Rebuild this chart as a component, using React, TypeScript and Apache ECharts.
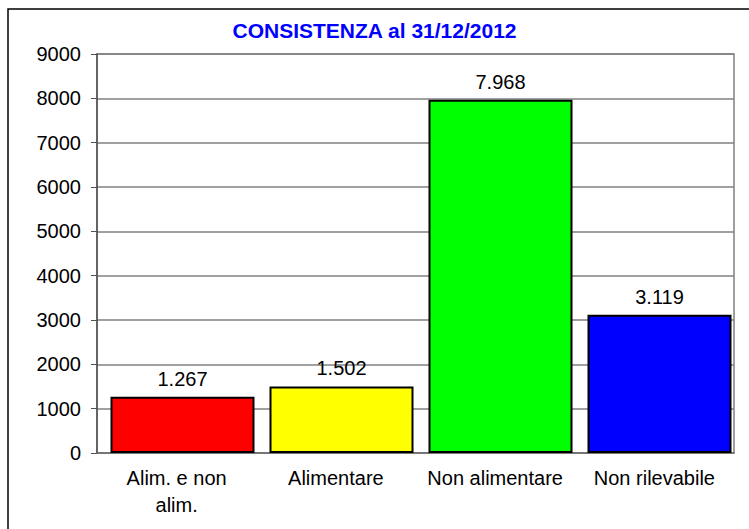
import React, { useEffect, useRef } from "react";
import * as echarts from "echarts";

const categories = ["Alim. e non\nalim.", "Alimentare", "Non alimentare", "Non rilevabile"];
const values = [1267, 1502, 7968, 3119];
const barColors = ["#FF0000", "#FFFF00", "#00FF00", "#0000FF"];
const titleText = "CONSISTENZA al 31/12/2012";

const fmt = (v: number) => String(v).replace(/\B(?=(\d{3})+(?!\d))/g, ".");

export default function App() {
  const ref = useRef<HTMLDivElement>(null);
  useEffect(() => {
    if (!ref.current) return;
    const chart = echarts.init(ref.current, null, { renderer: "svg" });
    const font = "'Liberation Sans', Arial, sans-serif";
    chart.setOption({
      animation: false,
      backgroundColor: "#ffffff",
      title: {
        text: titleText,
        left: "center",
        top: 15,
        textStyle: { color: "#0000FF", fontWeight: "bold", fontSize: 21, fontFamily: font },
      },
      graphic: [
        {
          type: "rect",
          shape: { x: 8, y: 9, width: 800, height: 600 },
          style: { fill: "none", stroke: "#000000", lineWidth: 1.5 },
          silent: true,
        },
      ],
      grid: [
        { left: 97, right: 15, top: 54, bottom: 76, show: true, borderColor: "#808080", borderWidth: 1.5, backgroundColor: "transparent" },
        { left: 103, right: 10, top: 54, bottom: 76 },
      ],
      xAxis: [
        {
          type: "category",
          gridIndex: 0,
          data: categories,
          axisLine: { show: true, lineStyle: { color: "#707070", width: 1.5 } },
          axisTick: { show: false },
          axisLabel: { color: "#000", fontSize: 20, fontFamily: font, margin: 11, lineHeight: 27, interval: 0 },
        },
        {
          type: "category",
          gridIndex: 1,
          data: categories,
          show: false,
        },
      ],
      yAxis: [
        {
          type: "value",
          gridIndex: 0,
          min: 0,
          max: 9000,
          interval: 1000,
          axisLine: { show: true, lineStyle: { color: "#505050", width: 1.5 } },
          axisTick: { show: true, length: 6, lineStyle: { color: "#505050" } },
          axisLabel: { color: "#000", fontSize: 20, fontFamily: font, margin: 16, formatter: (v: number) => String(v) },
          splitLine: { lineStyle: { color: "#808080", width: 1.5 } },
        },
        {
          type: "value",
          gridIndex: 1,
          min: 0,
          max: 9000,
          interval: 1000,
          show: false,
          splitLine: { show: false },
        },
      ],
      series: [
        {
          type: "bar",
          xAxisIndex: 1,
          yAxisIndex: 1,
          barWidth: 144,
          data: values.map((v, i) => ({
            value: v,
            itemStyle: { color: barColors[i], borderColor: "#000", borderWidth: 2 },
          })),
          label: {
            show: true,
            position: "top",
            distance: 8,
            color: "#000",
            fontSize: 20,
            fontFamily: font,
            formatter: (p: any) => fmt(p.value),
          },
        },
      ],
    });
    return () => chart.dispose();
  }, []);
  return <div ref={ref} style={{ position: "fixed", left: 0, top: 0, width: 749, height: 529 }} />;
}
